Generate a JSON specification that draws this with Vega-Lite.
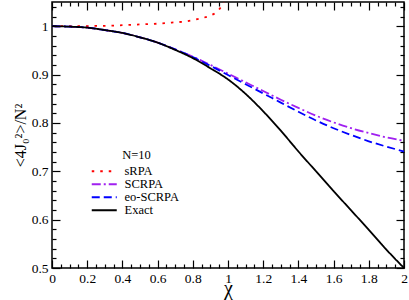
{
  "$schema": "https://vega.github.io/schema/vega-lite/v6.json",
  "width": 352,
  "height": 266,
  "autosize": "none",
  "padding": {"left": 52, "top": 2, "right": 5, "bottom": 32},
  "background": "white",
  "config": {
    "view": {"stroke": "black", "strokeWidth": 1.5, "fill": null},
    "font": "Liberation Serif",
    "axis": {"zindex": 1, "ticks": true, "domain": false, "tickColor": "black", "tickWidth": 1.2, "tickOpacity": 1, "grid": false, "labelColor": "black", "labelFont": "Liberation Serif", "titleFont": "Liberation Serif", "titleColor": "black", "titleFontWeight": "normal"}
  },
  "datasets": {
    "curves": [
      {"series": "sRPA", "x": 0.0, "y": 1.0},
      {"series": "sRPA", "x": 0.1, "y": 1.0},
      {"series": "sRPA", "x": 0.2, "y": 1.0003},
      {"series": "sRPA", "x": 0.3, "y": 1.0008},
      {"series": "sRPA", "x": 0.4, "y": 1.002},
      {"series": "sRPA", "x": 0.5, "y": 1.0036},
      {"series": "sRPA", "x": 0.6, "y": 1.0052},
      {"series": "sRPA", "x": 0.7, "y": 1.008},
      {"series": "sRPA", "x": 0.75, "y": 1.0095},
      {"series": "sRPA", "x": 0.8, "y": 1.0125},
      {"series": "sRPA", "x": 0.85, "y": 1.0165},
      {"series": "sRPA", "x": 0.9, "y": 1.022},
      {"series": "sRPA", "x": 0.93, "y": 1.028},
      {"series": "sRPA", "x": 0.955, "y": 1.037},
      {"series": "sRPA", "x": 0.97, "y": 1.046},
      {"series": "sRPA", "x": 0.98, "y": 1.055},
      {"series": "SCRPA", "x": 0.0, "y": 1.0},
      {"series": "SCRPA", "x": 0.1, "y": 0.999},
      {"series": "SCRPA", "x": 0.2, "y": 0.997},
      {"series": "SCRPA", "x": 0.3, "y": 0.992},
      {"series": "SCRPA", "x": 0.4, "y": 0.986},
      {"series": "SCRPA", "x": 0.5, "y": 0.977},
      {"series": "SCRPA", "x": 0.6, "y": 0.966},
      {"series": "SCRPA", "x": 0.7, "y": 0.952},
      {"series": "SCRPA", "x": 0.8, "y": 0.937},
      {"series": "SCRPA", "x": 0.9, "y": 0.92},
      {"series": "SCRPA", "x": 1.0, "y": 0.902},
      {"series": "SCRPA", "x": 1.1, "y": 0.884},
      {"series": "SCRPA", "x": 1.2, "y": 0.866},
      {"series": "SCRPA", "x": 1.3, "y": 0.848},
      {"series": "SCRPA", "x": 1.4, "y": 0.831},
      {"series": "SCRPA", "x": 1.5, "y": 0.815},
      {"series": "SCRPA", "x": 1.6, "y": 0.801},
      {"series": "SCRPA", "x": 1.7, "y": 0.789},
      {"series": "SCRPA", "x": 1.8, "y": 0.779},
      {"series": "SCRPA", "x": 1.9, "y": 0.77},
      {"series": "SCRPA", "x": 2.0, "y": 0.763},
      {"series": "eo-SCRPA", "x": 0.0, "y": 1.0},
      {"series": "eo-SCRPA", "x": 0.1, "y": 0.999},
      {"series": "eo-SCRPA", "x": 0.2, "y": 0.997},
      {"series": "eo-SCRPA", "x": 0.3, "y": 0.992},
      {"series": "eo-SCRPA", "x": 0.4, "y": 0.986},
      {"series": "eo-SCRPA", "x": 0.5, "y": 0.977},
      {"series": "eo-SCRPA", "x": 0.6, "y": 0.966},
      {"series": "eo-SCRPA", "x": 0.7, "y": 0.952},
      {"series": "eo-SCRPA", "x": 0.8, "y": 0.936},
      {"series": "eo-SCRPA", "x": 0.9, "y": 0.918},
      {"series": "eo-SCRPA", "x": 1.0, "y": 0.899},
      {"series": "eo-SCRPA", "x": 1.1, "y": 0.88},
      {"series": "eo-SCRPA", "x": 1.2, "y": 0.861},
      {"series": "eo-SCRPA", "x": 1.3, "y": 0.842},
      {"series": "eo-SCRPA", "x": 1.4, "y": 0.823},
      {"series": "eo-SCRPA", "x": 1.5, "y": 0.805},
      {"series": "eo-SCRPA", "x": 1.6, "y": 0.789},
      {"series": "eo-SCRPA", "x": 1.7, "y": 0.775},
      {"series": "eo-SCRPA", "x": 1.8, "y": 0.762},
      {"series": "eo-SCRPA", "x": 1.9, "y": 0.751},
      {"series": "eo-SCRPA", "x": 2.0, "y": 0.741},
      {"series": "Exact", "x": 0.0, "y": 1.0},
      {"series": "Exact", "x": 0.1, "y": 0.999},
      {"series": "Exact", "x": 0.2, "y": 0.997},
      {"series": "Exact", "x": 0.3, "y": 0.992},
      {"series": "Exact", "x": 0.4, "y": 0.986},
      {"series": "Exact", "x": 0.5, "y": 0.977},
      {"series": "Exact", "x": 0.6, "y": 0.966},
      {"series": "Exact", "x": 0.7, "y": 0.951},
      {"series": "Exact", "x": 0.8, "y": 0.934},
      {"series": "Exact", "x": 0.9, "y": 0.913},
      {"series": "Exact", "x": 1.0, "y": 0.89},
      {"series": "Exact", "x": 1.1, "y": 0.86},
      {"series": "Exact", "x": 1.2, "y": 0.824},
      {"series": "Exact", "x": 1.3, "y": 0.784},
      {"series": "Exact", "x": 1.4, "y": 0.741},
      {"series": "Exact", "x": 1.5, "y": 0.7},
      {"series": "Exact", "x": 1.6, "y": 0.659},
      {"series": "Exact", "x": 1.7, "y": 0.619},
      {"series": "Exact", "x": 1.8, "y": 0.579},
      {"series": "Exact", "x": 1.9, "y": 0.538},
      {"series": "Exact", "x": 2.0, "y": 0.5}
    ],
    "note": [{"label": "N=10", "x": 0.48, "y": 0.733}]
  },
  "layer": [
    {
      "data": {"name": "curves"},
      "mark": {"type": "line", "clip": true, "strokeWidth": 1.8, "interpolate": "monotone"},
      "encoding": {
        "x": {
          "field": "x", "type": "quantitative",
          "scale": {"domain": [0, 2], "nice": false, "zero": false},
          "axis": {
            "orient": "bottom",
            "title": "χ",
            "titleFontSize": 20,
            "titleY": 26, "titleBaseline": "alphabetic",
            "values": [0,0.2,0.4,0.6,0.8,1,1.2,1.4,1.6,1.8,2],
            "labelExpr": "format(datum.value, '.1~f')",
            "labelOverlap": false, "labelFlush": false,
            "labelFontSize": 13.5,
            "ticks": false, "labelPadding": 3
          }
        },
        "y": {
          "field": "y", "type": "quantitative",
          "scale": {"domain": [0.5, 1.05], "nice": false, "zero": false},
          "axis": {
            "orient": "left",
            "title": "<4J₀²>/N²",
            "titleFontSize": 16,
            "titleX": -32, "titleY": 133, "titleAngle": 270, "titleAlign": "center", "titleBaseline": "middle",
            "values": [0.5,0.6,0.7,0.8,0.9,1],
            "labelExpr": "format(datum.value, '.1~f')",
            "labelOverlap": false, "labelFlush": false,
            "labelFontSize": 13.5,
            "ticks": false, "labelPadding": 4
          }
        },
        "color": {
          "field": "series", "type": "nominal",
          "scale": {"domain": ["sRPA", "SCRPA", "eo-SCRPA", "Exact"], "range": ["#ff0000", "#a020f0", "#0000ff", "#000000"]},
          "legend": {
            "title": null, "orient": "none", "legendX": 46, "legendY": 163,
            "symbolType": "M-2.5,0H2.5", "symbolSize": 100, "symbolStrokeWidth": 2,
            "labelFont": "Liberation Serif", "labelFontSize": 12.5, "labelColor": "black",
            "rowPadding": 0, "labelOffset": 14
          }
        },
        "strokeDash": {
          "field": "series", "type": "nominal",
          "scale": {"domain": ["sRPA", "SCRPA", "eo-SCRPA", "Exact"], "range": [[2.5, 6], [9, 3, 2, 3], [8, 4], [1, 0]]},
          "legend": {
            "title": null, "orient": "none", "legendX": 46, "legendY": 163,
            "symbolType": "M-2.5,0H2.5", "symbolSize": 100, "symbolStrokeWidth": 2,
            "labelFont": "Liberation Serif", "labelFontSize": 12.5, "labelColor": "black",
            "rowPadding": 0, "labelOffset": 14
          }
        }
      }
    },
    {
      "data": {"name": "note"},
      "mark": {"type": "text", "font": "Liberation Serif", "fontSize": 12.5, "color": "black", "align": "center", "baseline": "middle"},
      "encoding": {
        "text": {"field": "label"},
        "x": {
          "field": "x", "type": "quantitative",
          "scale": {"domain": [0, 2], "nice": false, "zero": false},
          "axis": {
            "orient": "bottom", "title": null, "labels": false,
            "values": [0,0.2,0.4,0.6,0.8,1,1.2,1.4,1.6,1.8,2],
            "tickSize": 8, "offset": -8
          }
        },
        "y": {
          "field": "y", "type": "quantitative",
          "scale": {"domain": [0.5, 1.05], "nice": false, "zero": false},
          "axis": {
            "orient": "left", "title": null, "labels": false,
            "values": [0.5,0.6,0.7,0.8,0.9,1],
            "tickSize": 8, "offset": -8
          }
        }
      }
    },
    {
      "data": {"name": "note"},
      "mark": {"type": "text", "opacity": 0},
      "encoding": {
        "text": {"field": "label"},
        "x": {
          "field": "x", "type": "quantitative",
          "scale": {"domain": [0, 2], "nice": false, "zero": false},
          "axis": {
            "orient": "bottom", "title": null, "labels": false,
            "values": [0.05,0.1,0.15,0.25,0.3,0.35,0.45,0.5,0.55,0.65,0.7,0.75,0.85,0.9,0.95,1.05,1.1,1.15,1.25,1.3,1.35,1.45,1.5,1.55,1.65,1.7,1.75,1.85,1.9,1.95],
            "tickSize": 4, "offset": -4
          }
        },
        "y": {
          "field": "y", "type": "quantitative",
          "scale": {"domain": [0.5, 1.05], "nice": false, "zero": false},
          "axis": {
            "orient": "left", "title": null, "labels": false,
            "values": [0.52,0.54,0.56,0.58,0.62,0.64,0.66,0.68,0.72,0.74,0.76,0.78,0.82,0.84,0.86,0.88,0.92,0.94,0.96,0.98,1.02,1.04],
            "tickSize": 4, "offset": -4
          }
        }
      }
    },
    {
      "data": {"name": "note"},
      "mark": {"type": "text", "opacity": 0},
      "encoding": {
        "text": {"field": "label"},
        "x": {
          "field": "x", "type": "quantitative",
          "scale": {"domain": [0, 2], "nice": false, "zero": false},
          "axis": {
            "orient": "top", "title": null, "labels": false,
            "values": [0,0.2,0.4,0.6,0.8,1,1.2,1.4,1.6,1.8,2],
            "tickSize": 8, "offset": -8
          }
        },
        "y": {
          "field": "y", "type": "quantitative",
          "scale": {"domain": [0.5, 1.05], "nice": false, "zero": false},
          "axis": {
            "orient": "right", "title": null, "labels": false,
            "values": [0.5,0.6,0.7,0.8,0.9,1],
            "tickSize": 8, "offset": -8
          }
        }
      }
    },
    {
      "data": {"name": "note"},
      "mark": {"type": "text", "opacity": 0},
      "encoding": {
        "text": {"field": "label"},
        "x": {
          "field": "x", "type": "quantitative",
          "scale": {"domain": [0, 2], "nice": false, "zero": false},
          "axis": {
            "orient": "top", "title": null, "labels": false,
            "values": [0.05,0.1,0.15,0.25,0.3,0.35,0.45,0.5,0.55,0.65,0.7,0.75,0.85,0.9,0.95,1.05,1.1,1.15,1.25,1.3,1.35,1.45,1.5,1.55,1.65,1.7,1.75,1.85,1.9,1.95],
            "tickSize": 4, "offset": -4
          }
        },
        "y": {
          "field": "y", "type": "quantitative",
          "scale": {"domain": [0.5, 1.05], "nice": false, "zero": false},
          "axis": {
            "orient": "right", "title": null, "labels": false,
            "values": [0.52,0.54,0.56,0.58,0.62,0.64,0.66,0.68,0.72,0.74,0.76,0.78,0.82,0.84,0.86,0.88,0.92,0.94,0.96,0.98,1.02,1.04],
            "tickSize": 4, "offset": -4
          }
        }
      }
    }
  ],
  "resolve": {"axis": {"x": "independent", "y": "independent"}}
}
